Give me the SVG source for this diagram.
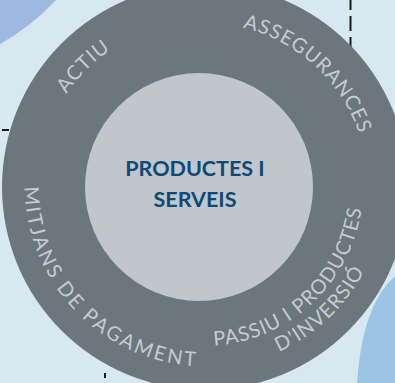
<svg xmlns="http://www.w3.org/2000/svg" width="395" height="383" viewBox="0 0 395 383">
<defs>
<style>
.ring-label{font-family:Lato,"Open Sans","Liberation Sans",sans-serif;font-size:20px;fill:#c6cbd2;letter-spacing:1px}
.wide{letter-spacing:2.4px}
.center-label{font-family:Lato,"Open Sans","Liberation Sans",sans-serif;font-size:21.5px;font-weight:bold;fill:#0e4a76;text-anchor:middle}
.dash{stroke:#1b1b1b;stroke-width:2;fill:none}
</style>
<path id="arc-actiu" d="M38,187 A166,166 0 0 1 204,21"/>
<path id="arc-asseg" d="M204,23 A164,164 0 0 1 367.4,172.7"/>
<path id="arc-mitjans" d="M34.9,125.4 A181,181 0 0 0 259.6,358.2"/>
<path id="arc-passiu" d="M149.6,336.4 A159,159 0 0 0 356.8,143.2"/>
<path id="arc-inversio" d="M142.1,357.1 A181,181 0 0 0 377.1,134.1"/>
</defs>
<g id="background">
<rect width="395" height="383" fill="#d8e8f1"/>
<path d="M0,0 L56,0 Q32,26 0,44 Z" fill="#9fb8e2"/>
<path d="M395,276 Q362,305 357,383 L395,383 Z" fill="#9dc3e5"/>
</g>
<g id="connectors">
<line class="dash" x1="350.5" y1="0" x2="350.5" y2="52" stroke-dasharray="15 6" stroke-dashoffset="5"/>
<line class="dash" x1="2" y1="130" x2="9" y2="130" stroke-width="1.6"/>
<line class="dash" x1="105" y1="373" x2="105" y2="378"/>
</g>
<g id="outer-ring">
<circle cx="205" cy="187" r="203" fill="#6b767d"/>
</g>
<g id="node-actiu">
<text class="ring-label"><textPath href="#arc-actiu" startOffset="50%" text-anchor="middle">ACTIU</textPath></text>
</g>
<g id="node-assegurances">
<text class="ring-label"><textPath href="#arc-asseg" startOffset="50%" text-anchor="middle">ASSEGURANCES</textPath></text>
</g>
<g id="node-mitjans">
<text class="ring-label wide"><textPath href="#arc-mitjans" startOffset="50%" text-anchor="middle">MITJANS DE PAGAMENT</textPath></text>
</g>
<g id="node-passiu">
<text class="ring-label"><textPath href="#arc-passiu" startOffset="50%" text-anchor="middle">PASSIU I PRODUCTES</textPath></text>
<text class="ring-label"><textPath href="#arc-inversio" startOffset="50%" text-anchor="middle">D'INVERSIÓ</textPath></text>
</g>
<g id="node-center">
<circle cx="199" cy="187" r="114" fill="#c1c6cd"/>
<text class="center-label" x="195" y="176">PRODUCTES I</text>
<text class="center-label" x="195" y="207">SERVEIS</text>
</g>
</svg>
